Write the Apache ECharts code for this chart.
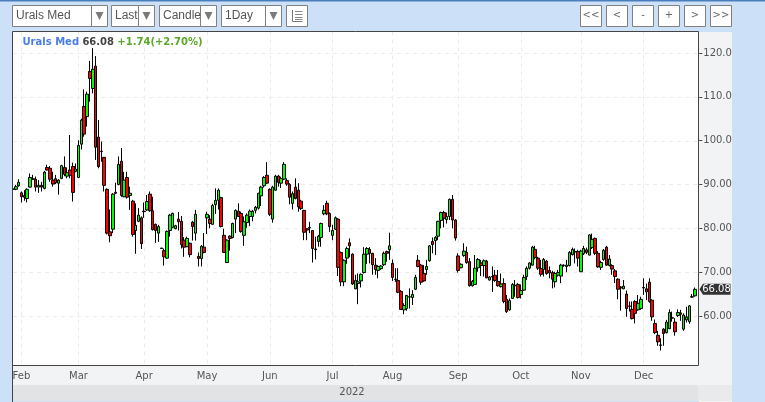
<!DOCTYPE html>
<html><head><meta charset="utf-8">
<style>html,body{margin:0;padding:0;background:#cce0f8}#c{width:765px;height:402px}</style>
<script src="https://cdn.jsdelivr.net/npm/echarts@6/dist/echarts.min.js"></script>
</head><body><div id="c"></div>
<script>
// Values: [open, close, low, high]
const febCandles=[[88.9,89,88.7,89.1],[88.9,89.5,88.7,89.9],[89.7,90.5,89.5,91.2],[88.1,87.2,85.9,88.4],[87.5,87.1,86.3,88.7],[86.8,88.9,85.9,89.1],[89.4,91.6,89.3,92.5],[91.3,91.2,91,92.2],[91.2,89.4,88.4,91.8],[89.4,89.8,88.1,91],[89.8,89.4,88.4,90.6],[89.1,92.8,88.9,93.1],[93.9,93.3,93.2,94.5],[93.7,91.2,90.6,94.2],[91,90.1,89.5,92.9],[91.3,90.4,90.1,92.2],[90.3,91,87.7,91.2],[91.4,94.3,91.2,94.5],[93.9,92.3,91.9,96.4],[91.9,92.7,91.4,93.9],[93.3,92.1,91.4,101.3],[94.1,88.2,86.1,95],[93,93.5,92.8,94.8]];
const marCandles=[[91.6,98.9,91.5,100.1],[99.2,104.7,98,105],[107.8,101.5,100.9,111.7],[105.5,110.6,103.2,111.2],[115.8,114.2,108.9,118.2],[111.9,116.3,110.8,121.1],[117,98.5,95.6,119.3],[100.8,94.1,93.7,104.7],[97.6,97.5,95.2,99.8],[96.2,89.8,88.4,96.2],[88.9,78.9,78.6,89.1],[79.2,78.3,76.8,84.3],[79.8,87.8,78.9,88],[88.2,88,87.8,90.4],[90,94.6,89.8,96.4],[95.3,87.5,87.2,98.3],[87.2,91,87.1,92.9],[91.6,87.1,86.8,92.9],[87.5,88,84.2,89.5],[86.2,78.6,78.1,86.5],[79.5,80.7,74.2,85.7],[81.6,83,81.4,84.6],[82.4,76.5,75.3,82.7]];
const aprCandles=[[83.9,83.8,82.4,85.9],[84.2,86.1,84,87.6],[87.8,84,83.8,88.4],[84,79.7,79.5,87.2],[80.9,79.5,76.7,81.1],[78.9,80.4,76.9,80.8],[75.5,75.4,75.4,75.5],[74.9,73.5,71.5,75.4],[73.2,79.3,73,79.5],[79.5,83,78.1,83.3],[80.2,83.4,80,83.6],[79.9,80.6,79.8,80.8],[82.1,81.5,79.5,83.7],[81.6,76.3,75.4,82.8],[77.3,75.7,73.5,78],[75.8,77.7,75.7,78.1],[76.6,74,73.4,76.7],[81.4,80.4,77.2,81.7],[78.9,83.2,77.2,84.2],[73.6,73.1,71.3,74.5],[73.1,75.9,71.3,76.2],[75.7,74.5,74.3,78.9]];
const mayCandles=[[82.4,83.2,78.7,83.8],[82.1,81.1,80,83],[80.9,85.2,80.8,85.6],[85.4,86.4,83.3,89.1],[86.4,88.7,84.3,89.1],[87,80.4,80.2,87.2],[78.4,74.5,74.4,79.9],[72.2,77.3,72.2,77.5],[78.2,77.7,74.9,78.4],[77.9,81.1,77.7,81.3],[82.1,84.1,78.9,84.3],[83.9,82.7,82.7,85.7],[83.4,79.3,79,83.8],[78.4,81.5,76,82.7],[81.3,83,80.1,83.4],[82.7,83.9,80.5,84.3],[82.7,83.9,81.6,84.2],[84.1,84.8,83.4,85.1],[84.6,88,84.3,88.1],[87.4,89.4,85.1,89.7],[89.7,91.6,89.3,91.9],[92.1,90.3,90.1,95.1]];
const junCandles=[[88.9,83.2,82.8,89.1],[82.1,89.4,81.3,89.7],[88.7,91.9,88.6,92.2],[91.9,90.5,89.5,92.2],[90.3,91.4,89.2,91.8],[91.2,94.6,91,95.1],[90.9,90.1,89.7,91.4],[90,87.1,85.5,90.3],[85.7,87.9,84.3,88.4],[89.4,86.8,86.6,91.4],[88.7,84.9,83.8,90.3],[86.2,84.5,84.2,86.5],[84.1,79.1,77.3,84.2],[79.9,79.6,77.3,80],[80.2,80.1,78.9,81.5],[79.5,75.4,72.2,79.6],[75.3,75.1,72.9,78.1],[77,78.2,75.8,78.5],[77.9,81.1,75.8,81.3],[83.3,84.1,83,85.3],[85.7,83.3,83,86.3],[83.4,80.4,79.2,83.6]];
const julCandles=[[78.4,79.5,77.3,80.8],[79.8,82.4,79.6,82.7],[82.1,71.1,69.1,82.3],[74.5,67.8,66.8,74.7],[67.8,72.7,66.8,72.9],[73.2,75.4,71.9,75.8],[76.7,76,73.4,77.7],[74.1,67.3,67.1,74.3],[66.2,68.1,66.1,69.4],[67.4,67.8,62.7,69.7],[68,69.5,66.5,69.7],[69.9,74.1,69.7,75.7],[74.1,75.4,71.9,75.7],[75.2,74.3,72,75.7],[74.3,71.7,69.4,74.4],[71.6,70.6,69.4,73.2],[70.4,71.3,68.6,71.6],[70.8,71.4,70.5,71.6],[71.7,74.3,71.4,74.7],[74.7,74.3,72.4,74.9],[75.1,76,72.8,79]];
const augCandles=[[72,68.8,68,72.9],[68.4,68.3,67.8,70.9],[68.1,65.4,65.2,70.9],[65.6,61.5,61.4,65.9],[61.4,62.4,60.4,62.9],[61.7,64.7,61.2,64.8],[64.4,64.3,61.7,66.3],[64.2,64.9,62.5,65.9],[66.1,68.8,65.9,69.4],[72.7,71.3,71.1,73.9],[71.6,67.7,67.1,71.9],[69.7,68,67.8,71.6],[70.6,71.3,69.4,72.8],[72.6,76,72.4,76.2],[77,76.3,74.3,77.9],[77.2,77.9,73.9,78.2],[78.2,81.6,77.3,81.7],[81.8,83.6,80,83.8],[83.6,82.3,80.2,84],[82,82.7,81.1,83.6],[82.7,86.6,81.9,86.8],[86.6,81.9,80,87.6],[81.9,77.8,77.2,82.1]];
const sepCandles=[[73.7,70.4,69.9,74.3],[71,71.8,70.9,72],[73.8,74.8,73.5,76.6],[74.5,72.2,71.9,75.8],[72.4,66.9,66.7,73.2],[66.9,67.9,66.7,68.2],[67.2,70.9,67.1,73.9],[71,72.9,70.1,73.2],[72.1,71.5,69.1,72.8],[71.5,72.6,69,72.9],[72.5,68.7,68.6,72.8],[68.2,68.9,68.1,69.1],[69,68.9,65.5,71.3],[69.3,68.1,67.8,70.5],[67.9,66.9,66.7,70.5],[66.7,67.3,66.5,69.7],[67.4,63.3,62.9,68.6],[63.8,61,60.7,64.8],[61.4,63.5,61.2,64],[64,67.2,63.9,67.5],[67,66.9,64.4,68.2],[67.2,64.2,64,67.5]];
const octCandles=[[64.9,65.8,64,67.2],[65.9,68.8,65.7,69.4],[69,70.9,68.2,71.3],[70.9,72.1,70.6,72.2],[71.6,75.7,71.5,76],[75.2,73.3,72.9,76],[73.2,70.9,70.5,73.5],[70.8,69.5,69,72.8],[70.6,72.9,69,73.2],[72.5,69.7,69.4,72.8],[70.4,69.8,68.6,71.3],[69.9,68.4,66.3,70.3],[67.8,69.7,66.5,70.1],[69.3,69.9,69,70.5],[69.1,71.6,67.5,71.9],[71.6,71.5,71.2,71.8],[71.3,71.6,70,72.8],[71.5,74.5,71.3,74.8],[74,75.2,73.8,75.6],[74.7,74.6,72,75.4],[74.7,73.2,71.3,75.1]];
const novCandles=[[70.1,74.8,70,75.1],[74.2,75.4,73.9,76],[75.1,74.5,74.1,75.6],[73.9,78.5,73.8,78.6],[75.6,77.5,75.3,78.8],[77.7,74.3,73.9,77.9],[74.3,71.2,71,74.8],[71.1,72.2,70.5,72.6],[72.9,75,72.6,75.3],[75.7,71.6,71.5,76],[71.5,73,71.3,73.9],[71.5,70.7,69.4,71.8],[70.3,69,67.5,70.7],[68.4,66.1,63.8,68.6],[66.6,66.4,61.2,66.8],[66.2,66.8,66.1,68.2],[65,61.7,59.8,65.8],[62.3,62.2,61,63.3],[61.5,59.4,59.2,63.3],[63.3,60.6,58.3,63.6],[61.4,62.9,61.2,64.8],[61.7,63.8,61.4,64.4]];
const decCandles=[[66.5,66.4,64.8,68.6],[66.2,65.5,63.6,67.4],[67.7,63.3,63,68.6],[63.6,59.8,58.9,63.8],[58.3,56.2,55.9,59.2],[55.6,54.1,53.2,56.6],[53.4,53.3,52.1,54.9],[57,56,53.2,57.2],[56.2,58.6,56,59.1],[57.1,60.8,57,61.5],[59.6,59.5,58.7,61],[58.6,56.4,55.5,59.5],[60.1,60.8,59.8,61.5],[60.7,60.4,58.9,61.4],[57,60.2,56.6,60.6],[59.1,59.8,58.5,62.1],[58.7,62.3,58.2,62.5],[64.3,64.4,64.2,65],[64.6,66.08,64.4,66.5]];
const monthLabels=['Feb','Mar','Apr','May','Jun','Jul','Aug','Sep','Oct','Nov','Dec'];
const monthStarts=[3,23,46,68,90,112,133,156,178,199,221];
const priceTicks=[60,70,80,90,100,110,120];
const lastPrice=66.08;

const candles=[].concat(febCandles,marCandles,aprCandles,mayCandles,junCandles,julCandles,augCandles,sepCandles,octCandles,novCandles,decCandles);
const categories=[];
for(let i=0;i<=candles.length;i++){const m=monthStarts.indexOf(i);categories.push(m>=0?monthLabels[m]:'d'+i);}
const isMonth=i=>monthStarts.indexOf(i)>=0;

const BG='#cce0f8',BORDER='#808080',TXT='#555',FONT='"DejaVu Sans"',UI='"Liberation Sans"';
const rect=(x,y,w,h,fill,z,stroke)=>({type:'rect',silent:true,z,shape:{x,y,width:w,height:h},style:{fill,stroke:stroke||null,lineWidth:stroke?1:0}});
const line=(x1,y1,x2,y2,stroke,z)=>({type:'line',silent:true,z,shape:{x1,y1,x2,y2},style:{stroke,lineWidth:1}});
const text=(x,y,t,font,fill,align,z)=>({type:'text',silent:true,z:z||110,x,y,style:{text:t,font,fill,align:align||'left',verticalAlign:'middle'}});
const tri=(cx,cy)=>({type:'polygon',silent:true,z:110,shape:{points:[[cx-4,cy-4],[cx+4,cy-4],[cx,cy+4]]},style:{fill:'#7a7a7a'}});
const g=[];
// backgrounds under the chart
g.push(rect(13,32,685.5,333.5,'#fff',-2));
g.push(rect(699,32,33,370,'#f2f3f5',-2));
g.push(rect(13,366,686,19,'#f2f3f5',-2));
g.push(rect(13,385,685,16,'#e2e3e5',-2));
g.push(rect(698,385,34,16,'#e9eaec',-2));
// covers and frame
g.push(rect(0,0,12,402,BG,100));
g.push(rect(732,0,33,402,BG,100));
g.push(rect(0,0,765,31,BG,99));
g.push(rect(0,0,765,1.5,'#4a7ebb',101));
g.push(line(12.5,31.5,12.5,402,'#444',102));
g.push(line(12.5,31.5,698.5,31.5,'#444',102));
g.push(line(12.5,365.5,698.5,365.5,'#444',102));
g.push(line(698.5,31.5,698.5,365.5,'#444',102));
// toolbar selects
[[12,95,79,'Urals Med'],[111,43,27,'Last'],[159,57,41,'Candle'],[221,60,44,'1Day']].forEach(s=>{
  g.push(rect(s[0]+.5,5.5,s[1],21,'#fff',105,BORDER));
  g.push(line(s[0]+s[2]+.5,5.5,s[0]+s[2]+.5,26.5,BORDER,106));
  g.push(text(s[0]+4,16,s[3],'12px '+UI,TXT));
  g.push(tri(s[0]+s[2]+8.5,16));
});
g.push(rect(286.5,5.5,21,21,'#fff',105,BORDER));
g.push(line(292.5,10,292.5,21.5,'#777',106));
g.push(line(292.5,21.5,302.5,21.5,'#777',106));
[11.5,14.5,17.5,19.5].forEach(y=>g.push(line(295,y,302.5,y,'#888',106)));
// nav buttons
[[580,'<<'],[606,'<'],[632,'-'],[658,'+'],[684,'>'],[710,'>>']].forEach(b=>{
  g.push(rect(b[0]+.5,5.5,21,21,'#fff',105,BORDER));
  g.push(text(b[0]+11,15.5,b[1],'10px '+FONT,'#666','center'));
});
// header & year
g.push({type:'text',silent:true,z:110,x:22.5,y:42,style:{rich:{a:{fill:'#4a7de8',font:'bold 10px '+FONT},b:{fill:'#444',font:'bold 10px '+FONT},c:{fill:'#5ba829',font:'bold 10px '+FONT}},text:'{a|Urals Med} {b|66.08} {c|+1.74(+2.70%)}',verticalAlign:'middle'}});
g.push(text(352,392.5,'2022','10px '+FONT,TXT,'center'));

const chart=echarts.init(document.getElementById('c'));
const GL={left:11.47,top:31.5,width:687.8,height:333.5};
chart.setOption({
  animation:false,backgroundColor:BG,graphic:{elements:g},grid:GL,
  xAxis:{type:'category',data:categories,boundaryGap:true,
    axisLine:{show:false},
    axisTick:{alignWithLabel:true,length:3,interval:i=>isMonth(i),lineStyle:{color:'#444'}},
    axisLabel:{interval:i=>isMonth(i),hideOverlap:false,color:TXT,fontFamily:FONT,fontSize:10,margin:6},
    splitLine:{show:true,alignWithLabel:true,interval:i=>isMonth(i),lineStyle:{color:'#ebebeb',type:[4,4],width:1}}},
  yAxis:{type:'value',position:'right',min:48.815,max:124.905,scale:true,
    axisLine:{show:false},
    axisTick:{show:true,length:3,customValues:priceTicks,lineStyle:{color:'#444'}},
    axisLabel:{customValues:priceTicks,color:TXT,fontFamily:FONT,fontSize:10,margin:4,formatter:v=>v.toFixed(2)},
    splitLine:{show:false}},
  series:[{type:'candlestick',data:candles,barWidth:3,
    itemStyle:{color:'#00ff00',color0:'#ff0000',borderColor:'#000',borderColor0:'#000',borderWidth:1}}]
});
// horizontal grid lines and last-price tag from the axis scale
const lastY=chart.convertToPixel({yAxisIndex:0},lastPrice);
const g2=g.slice();
priceTicks.forEach(v=>{const y=Math.round(chart.convertToPixel({yAxisIndex:0},v))+.5;
  g2.push({type:'line',silent:true,z:-1,shape:{x1:13,y1:y,x2:698,y2:y},style:{stroke:'#ebebeb',lineWidth:1,lineDash:[4,4]}});});
g2.push({type:'polygon',silent:true,z:110,shape:{points:[[699.5,lastY],[703,lastY-5.5],[730.5,lastY-5.5],[730.5,lastY+5.5],[703,lastY+5.5]]},style:{fill:'#333'}});
g2.push(text(716.5,lastY+.5,lastPrice.toFixed(2),'10px '+FONT,'#fff','center',111));
chart.setOption({graphic:{elements:g2}},{replaceMerge:['graphic']});
</script></body></html>
